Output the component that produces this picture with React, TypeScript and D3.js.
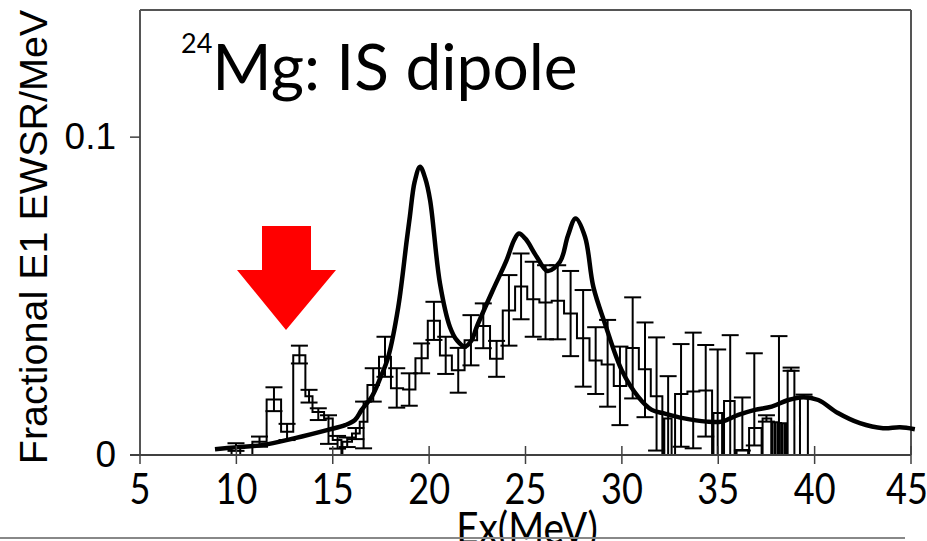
import React from "react";
import * as d3 from "d3";

// ---------- data ----------
// histogram bins (MeV edges), value (fraction of EWSR / MeV)
const binLo = [9.75, 10.83, 11.57, 12.32, 12.95, 13.58, 13.95, 14.55, 15.0, 15.5, 16.0, 16.4,
  16.8, 17.4, 18.02, 18.65, 19.29, 19.93, 20.56, 21.18, 21.84, 22.49, 23.16, 23.82,
  24.46, 25.09, 25.72, 26.36, 27.0, 27.67, 28.32, 28.95, 29.58, 30.23, 30.88, 31.5,
  32.2, 32.76, 33.4, 34.02, 34.75, 35.3, 35.95, 36.6, 37.3,
  37.8, 37.97, 38.14, 38.31, 38.47, 38.6, 39.24];
const binHi = [10.2, 11.57, 12.32, 12.95, 13.58, 13.95, 14.55, 15.0, 15.45, 16.0, 16.4, 16.8,
  17.4, 18.02, 18.65, 19.29, 19.93, 20.56, 21.18, 21.84, 22.49, 23.16, 23.82, 24.46,
  25.09, 25.72, 26.36, 27.0, 27.67, 28.32, 28.95, 29.58, 30.23, 30.88, 31.5, 32.1,
  32.58, 33.4, 34.02, 34.68, 35.2, 35.85, 36.55, 37.25, 37.75,
  37.92, 38.09, 38.26, 38.43, 38.56, 38.95, 39.65];
const binValue = [0.0025, 0.0042, 0.0175, 0.0073, 0.0314, 0.0185, 0.0135, 0.0115, 0.0047, 0.0042, 0.0068, 0.0105,
  0.022, 0.0309, 0.021, 0.0206, 0.0304, 0.0422, 0.0313, 0.0267, 0.0361, 0.0406, 0.0303, 0.0455,
  0.053, 0.049, 0.048, 0.0485, 0.0445, 0.0367, 0.0297, 0.0285, 0.0217, 0.0337, 0.027, 0.0185,
  0.0115, 0.0192, 0.02, 0.0203, 0.0132, 0.017, 0.0016, 0.0085, 0.0115,
  0.0103, 0.0103, 0.0101, 0.0100, 0.0100, 0.0265, 0.0183];

// error bars: energy, upper and lower limit
const errEnergy = [9.98, 11.2, 11.95, 12.63, 13.27, 13.77, 14.25, 14.78, 15.25, 15.75, 16.2, 16.6,
  17.1, 17.71, 18.32, 18.97, 19.61, 20.25, 20.86, 21.51, 22.17, 22.81, 23.5, 24.14,
  24.77, 25.4, 26.04, 26.67, 27.34, 27.99, 28.64, 29.26, 29.9, 30.56, 31.2, 31.8,
  32.4, 33.07, 33.7, 34.35, 34.97, 35.62, 36.25, 36.87, 37.5, 38.15, 38.78, 39.45];
const errHigh = [0.0037, 0.0058, 0.0213, 0.0098, 0.0344, 0.0205, 0.0147, 0.0125, 0.006, 0.0055, 0.0085, 0.0168,
  0.0273, 0.0372, 0.0273, 0.0257, 0.0351, 0.0482, 0.0372, 0.0337, 0.044, 0.0477, 0.0359, 0.0566,
  0.0634, 0.0608, 0.0597, 0.0597, 0.0579, 0.0519, 0.0402, 0.0425, 0.0341, 0.0496, 0.0417, 0.037,
  0.0248, 0.0349, 0.0385, 0.0346, 0.0332, 0.0377, 0.0181, 0.032, 0.0125, 0.0374, 0.0275, 0.019];
const errLow = [0.0013, 0.0026, 0.0138, 0.0047, 0.0288, 0.0165, 0.011, 0.0035, 0.002, 0.0025, 0.005, 0.0021,
  0.0168, 0.0246, 0.0149, 0.0155, 0.0257, 0.0362, 0.0255, 0.0196, 0.0282, 0.0336, 0.0246, 0.0344,
  0.0427, 0.0372, 0.0364, 0.0364, 0.0311, 0.0215, 0.0192, 0.0152, 0.0094, 0.0178, 0.0119, 0.0014,
  0.0, 0.0026, 0.0021, 0.0058, 0.0, 0.0, 0.0014, 0.003, 0.0105, 0.0, 0.0265, 0.0183];

// calculated strength (smooth curve)
const curveE = [8.89, 9.93, 11.31, 13.04, 14.75, 15.64, 16.15, 16.5, 17.02, 17.45, 17.88, 18.4, 18.84, 19.0, 19.25,
  19.53, 19.8, 20.05, 20.56, 21.08, 21.45, 21.86, 22.2, 22.47, 23.31, 24.02, 24.4, 24.66, 25.0, 25.58,
  26.14, 26.79, 27.2, 27.6, 28.09, 28.52, 29.12, 29.99, 30.85, 31.55, 32.19, 33.17, 34.4, 35.18,
  36.04, 36.9, 37.77, 38.63, 39.41, 40.19, 41.21, 42.35, 43.55, 44.43, 45.2];
const curveV = [0.0018, 0.0024, 0.0031, 0.0053, 0.0079, 0.0094, 0.011, 0.0142, 0.0183, 0.024, 0.0309, 0.0466, 0.0676, 0.075, 0.086,
  0.0907, 0.087, 0.0802, 0.0541, 0.0403, 0.036, 0.0341, 0.036, 0.0403, 0.0519, 0.0613, 0.0675, 0.0697, 0.068, 0.0624,
  0.0579, 0.0608, 0.069, 0.0744, 0.0686, 0.0529, 0.0414, 0.0267, 0.0183, 0.0142, 0.0131, 0.0116, 0.0105, 0.0105,
  0.0126, 0.0142, 0.0152, 0.0173, 0.0182, 0.0173, 0.0132, 0.01, 0.0084, 0.0087, 0.0081];

const xTicks = [5, 10, 15, 20, 25, 30, 35, 40, 45];
const yTicks = [0, 0.1];
const yTickLabels = ["0", "0.1"];

export default function App() {
  const W = 927, H = 541;
  const x = d3.scaleLinear().domain([5, 45]).range([140, 911]);
  const y = d3.scaleLinear().domain([0, 0.14]).range([455, 10]);

  // histogram step path
  let hist = "";
  let prevHi = -Infinity;
  binLo.forEach((lo, i) => {
    const hi = binHi[i];
    const v = binValue[i];
    if (i === 0) {
      hist += `M${x(lo)},${y(0)}`;
    } else if (lo > prevHi + 1e-6) {
      hist += `L${x(prevHi)},${y(0)}L${x(lo)},${y(0)}`;
    }
    hist += `L${x(lo)},${y(v)}L${x(hi)},${y(v)}`;
    prevHi = hi;
  });
  hist += `L${x(prevHi)},${y(0)}`;

  const curvePts: [number, number][] = curveE.map((e, i) => [e, curveV[i]]);
  const line = d3
    .line<[number, number]>()
    .x((d) => x(d[0]))
    .y((d) => y(d[1]))
    .curve(d3.curveCatmullRom.alpha(0.5));

  const cap = 8.5;

  return (
    <svg
      width={W}
      height={H}
      style={{ position: "absolute", left: 0, top: 0, background: "#fff" }}
    >
      <rect x={0} y={0} width={W} height={H} fill="#fff" />
      {/* frame */}
      <line x1={x(5)} x2={x(45)} y1={y(0.14)} y2={y(0.14)} stroke="#555" strokeWidth={2} />
      <line x1={x(45)} x2={x(45)} y1={y(0.14)} y2={y(0)} stroke="#555" strokeWidth={2} />
      <line x1={x(5)} x2={x(5)} y1={y(0.14)} y2={y(0)} stroke="#555" strokeWidth={2} />

      {/* histogram */}
      <path d={hist} fill="none" stroke="#000" strokeWidth={2} />
      {errEnergy.map((e, i) => {
        const cx = x(e);
        const yt = y(errHigh[i]);
        const yb = y(errLow[i]);
        return (
          <g key={i} stroke="#000" strokeWidth={2}>
            <line x1={cx} x2={cx} y1={yt} y2={yb} />
            <line x1={cx - cap} x2={cx + cap} y1={yt} y2={yt} />
            {errLow[i] > 0 && <line x1={cx - cap} x2={cx + cap} y1={yb} y2={yb} />}
          </g>
        );
      })}

      {/* calculation */}
      <path d={line(curvePts) || ""} fill="none" stroke="#000" strokeWidth={4.5} strokeLinejoin="round" />

      {/* axes */}
      <line x1={130} x2={x(45)} y1={y(0)} y2={y(0)} stroke="#404040" strokeWidth={2} />
      {xTicks.map((t) => (
        <g key={t}>
          <line x1={x(t)} x2={x(t)} y1={y(0) - (t === 5 ? 0 : 9)} y2={y(0) + 9} stroke="#404040" strokeWidth={1.5} />
          <text
            transform={`translate(${t === 45 ? x(t) - 4 : x(t)},504) scale(0.84,1)`}
            textAnchor="middle"
            fontFamily="Lato"
            fontSize={43}
            fill="#000"
          >
            {t}
          </text>
        </g>
      ))}
      {yTicks.map((t, i) => (
        <g key={t}>
          <line x1={130} x2={140} y1={y(t)} y2={y(t)} stroke="#404040" strokeWidth={1.5} />
          <text
            x={116}
            y={y(t) + 12}
            textAnchor="end"
            fontFamily="Liberation Sans"
            fontSize={37}
            fill="#000"
          >
            {yTickLabels[i]}
          </text>
        </g>
      ))}
      <text
        transform={`translate(47,237) rotate(-90)`}
        textAnchor="middle"
        fontFamily="Liberation Sans"
        fontSize={39.5}
        fill="#000"
      >
        Fractional E1 EWSR/MeV
      </text>
      <text
        transform="translate(527,544) scale(0.88,1)"
        textAnchor="middle"
        fontFamily="Lato"
        fontSize={44}
        fill="#000"
      >
        Ex(MeV)
      </text>
      <line x1={0} x2={905} y1={538} y2={538} stroke="#888" strokeWidth={2} />

      {/* title */}
      <text x={181} y={90} fontFamily="Lato" fill="#000">
        <tspan fontSize={27} dy={-37}>24</tspan>
        <tspan fontSize={64} dy={37}>Mg: IS dipole</tspan>
      </text>

      {/* red arrow */}
      <path
        d={`M262,226 L311,226 L311,270 L336,270 L286,330 L237,270 L262,270 Z`}
        fill="#ff0000"
      />
    </svg>
  );
}
